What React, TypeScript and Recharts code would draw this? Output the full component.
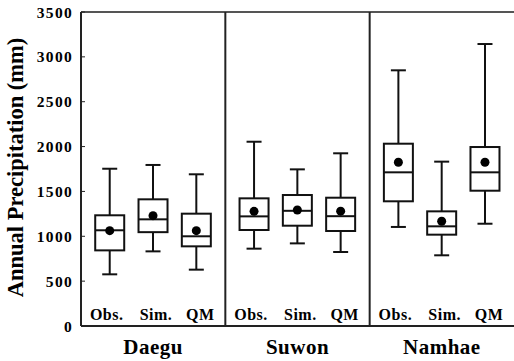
import React from 'react';
import { ComposedChart, Bar, XAxis, YAxis, ReferenceLine } from 'recharts';

const GROUPS = ['Daegu', 'Suwon', 'Namhae'];
const SERIES = ['Obs.', 'Sim.', 'QM'];

// [group][series]
const MINS = [
  [576, 832, 628],
  [862, 921, 825],
  [1104, 788, 1140],
];
const Q1S = [
  [843, 1046, 888],
  [1070, 1118, 1059],
  [1390, 1018, 1508],
];
const MEDIANS = [
  [1067, 1189, 1000],
  [1222, 1284, 1224],
  [1713, 1111, 1713],
];
const Q3S = [
  [1234, 1412, 1252],
  [1423, 1460, 1430],
  [2032, 1278, 1995],
];
const MAXS = [
  [1753, 1795, 1691],
  [2054, 1746, 1925],
  [2850, 1832, 3143],
];
const MEANS = [
  [1063, 1230, 1063],
  [1278, 1293, 1280],
  [1825, 1167, 1825],
];

const Y_TICKS = [0, 500, 1000, 1500, 2000, 2500, 3000, 3500];
const GROUP_TICKS = [0.5, 1.5, 2.5];
const SEPARATORS = [1, 2];

// layout: position of each series inside its group band
const SLOT_OFFSETS = [0.2, 0.5, 0.8];
const LABEL_DX = [-3, 3, 4];

const FONT = "'Liberation Serif', 'Times New Roman', serif";
const INK = '#111';

const data = GROUPS.flatMap((g, gi) =>
  SERIES.map((s, si) => ({
    x: gi + SLOT_OFFSETS[si],
    group: g,
    label: s,
    si,
    min: MINS[gi][si],
    q1: Q1S[gi][si],
    median: MEDIANS[gi][si],
    q3: Q3S[gi][si],
    max: MAXS[gi][si],
    mean: MEANS[gi][si],
  }))
);

const BoxShape = (props: any) => {
  const { x, y, width, height, payload } = props;
  if (!payload) return null;
  const { min, q1, median, q3, max, mean, label, si } = payload;
  const k = height / (max - min);
  const py = (v: number) => y + (max - v) * k;
  const cx = x + width / 2;
  const bw = 29;
  const cw = 15;
  const sw = 2;
  return (
    <g>
      <line x1={cx} x2={cx} y1={py(max)} y2={py(q3)} stroke={INK} strokeWidth={sw} />
      <line x1={cx} x2={cx} y1={py(q1)} y2={py(min)} stroke={INK} strokeWidth={sw} />
      <line x1={cx - cw / 2} x2={cx + cw / 2} y1={py(max)} y2={py(max)} stroke={INK} strokeWidth={sw} />
      <line x1={cx - cw / 2} x2={cx + cw / 2} y1={py(min)} y2={py(min)} stroke={INK} strokeWidth={sw} />
      <rect x={cx - bw / 2} y={py(q3)} width={bw} height={py(q1) - py(q3)} fill="#fff" stroke={INK} strokeWidth={sw} />
      <line x1={cx - bw / 2} x2={cx + bw / 2} y1={py(median)} y2={py(median)} stroke={INK} strokeWidth={sw} />
      <circle cx={cx} cy={py(mean)} r={4.5} fill="#000" />
      <text
        x={cx + LABEL_DX[si]}
        y={py(0) - 6}
        textAnchor="middle"
        fontFamily={FONT}
        fontWeight="bold"
        fontSize={16}
        letterSpacing={0.5}
        fill="#000"
      >
        {label}
      </text>
    </g>
  );
};

const GroupTick = (props: any) => {
  const { x, y, payload } = props;
  const name = GROUPS[Math.floor(payload.value)];
  return (
    <text x={x} y={y + 28} textAnchor="middle" fontFamily={FONT} fontWeight="bold" fontSize={21} letterSpacing={0.5} fill="#000">
      {name}
    </text>
  );
};

const TitleLabel = (props: any) => {
  const vb = props.viewBox || { x: 0, y: 12, width: 81, height: 314 };
  const x = vb.x + 23;
  const y = vb.y + vb.height / 2 - 1.5;
  return (
    <text
      x={x}
      y={y}
      transform={`rotate(-90, ${x}, ${y})`}
      textAnchor="middle"
      fontFamily={FONT}
      fontWeight="bold"
      fontSize={22.5}
      fill="#000"
    >
      Annual Precipitation (mm)
    </text>
  );
};

export default function App() {
  return (
    <div style={{ position: 'absolute', left: 0, top: 0 }}>
      <ComposedChart width={514} height={361} data={data} margin={{ top: 12, right: 0, bottom: 0, left: 0 }}>
        <XAxis
          type="number"
          dataKey="x"
          domain={[0, 3]}
          ticks={GROUP_TICKS}
          allowDataOverflow
          height={35}
          tickLine={false}
          tickSize={0}
          tickMargin={0}
          axisLine={{ stroke: '#222', strokeWidth: 2 }}
          tick={<GroupTick />}
        />
        <YAxis
          type="number"
          domain={[0, 3500]}
          ticks={Y_TICKS}
          width={81}
          tickSize={-4}
          tickMargin={12}
          tickLine={{ stroke: '#222', strokeWidth: 1 }}
          axisLine={{ stroke: '#222', strokeWidth: 2 }}
          tick={{ fontFamily: FONT, fontWeight: 'bold', fontSize: 15.5, fill: '#000', letterSpacing: 1.3 }}
          label={{ content: TitleLabel }}
        />
        <ReferenceLine y={3500} stroke="#555" strokeWidth={2} />
        {SEPARATORS.map((s) => (
          <ReferenceLine key={s} x={s} stroke="#222" strokeWidth={2} />
        ))}
        <Bar
          dataKey={(d: any) => [d.min, d.max]}
          barSize={29}
          shape={<BoxShape />}
          isAnimationActive={false}
        />
      </ComposedChart>
    </div>
  );
}
